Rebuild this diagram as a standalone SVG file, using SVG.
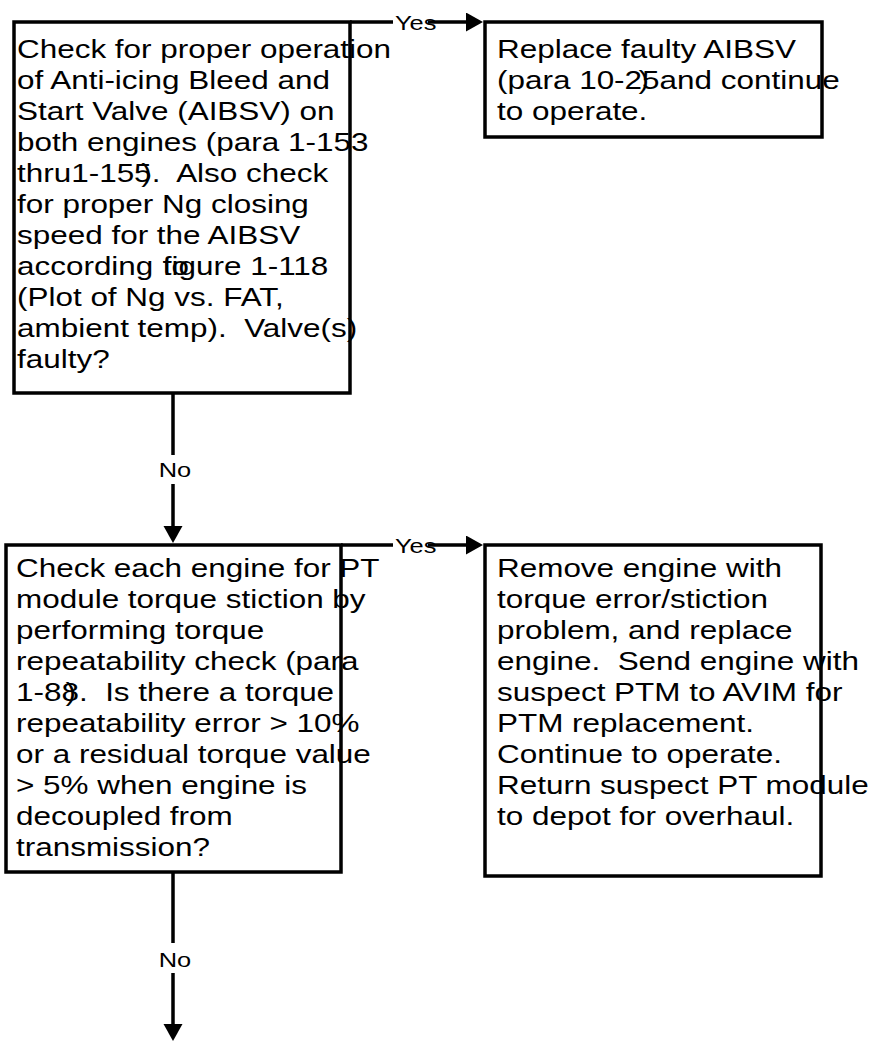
<svg xmlns="http://www.w3.org/2000/svg" width="874" height="1042" viewBox="0 0 874 1042">
  <style>
    .box { fill: #ffffff; stroke: #000000; stroke-width: 3.5; }
    .t { font-family: "Liberation Sans", Arial, Helvetica, sans-serif; font-size: 26px; fill: #000000; white-space: pre; }
    .lbl { font-family: "Liberation Sans", Arial, Helvetica, sans-serif; font-size: 21px; fill: #000000; }
    .wire { fill: none; stroke: #000000; stroke-width: 3.5; }
  </style>
  <defs>
    <marker id="arrow" markerUnits="userSpaceOnUse" markerWidth="18" markerHeight="20" refX="0" refY="9.5" orient="auto">
      <path d="M0,0 L17,9.5 L0,19 z" fill="#000000"/>
    </marker>
  </defs>

  <rect width="874" height="1042" fill="#ffffff"/>

  <!-- decision: AIBSV check -->
  <g id="check-aibsv">
    <rect class="box" x="14" y="22" width="336" height="371"/>
    <text class="t" transform="translate(17 58) scale(1.21 1)">Check for proper operation</text>
    <text class="t" transform="translate(17 89) scale(1.21 1)">of Anti-icing Bleed and</text>
    <text class="t" transform="translate(17 120) scale(1.21 1)">Start Valve (AIBSV) on</text>
    <text class="t" transform="translate(17 151) scale(1.21 1)">both engines (para 1-153</text>
    <text class="t" xml:space="preserve" transform="translate(17 182) scale(1.21 1)">thru1-155<tspan x="102.6">)</tspan><tspan x="111.3">.  Also check</tspan></text>
    <text class="t" transform="translate(17 213) scale(1.21 1)">for proper Ng closing</text>
    <text class="t" transform="translate(17 244) scale(1.21 1)">speed for the AIBSV</text>
    <text class="t" xml:space="preserve" transform="translate(17 275) scale(1.21 1)">according <tspan x="120.5">to</tspan><tspan x="120.5">figure 1-118</tspan></text>
    <text class="t" transform="translate(17 306) scale(1.21 1)">(Plot of Ng vs. FAT,</text>
    <text class="t" xml:space="preserve" transform="translate(17 337) scale(1.21 1)">ambient temp).  Valve(s)</text>
    <text class="t" transform="translate(17 368) scale(1.21 1)">faulty?</text>
  </g>

  <!-- action: replace AIBSV -->
  <g id="replace-aibsv">
    <rect class="box" x="485" y="22" width="337" height="115"/>
    <text class="t" transform="translate(497 58) scale(1.21 1)">Replace faulty AIBSV</text>
    <text class="t" transform="translate(497 89) scale(1.21 1)">(para 10-25<tspan x="117">)</tspan><tspan x="134.4">and continue</tspan></text>
    <text class="t" transform="translate(497 120) scale(1.21 1)">to operate.</text>
  </g>

  <!-- decision: PT module torque stiction -->
  <g id="check-stiction">
    <rect class="box" x="6" y="545" width="335" height="327"/>
    <text class="t" transform="translate(16 577) scale(1.21 1)">Check each engine for PT</text>
    <text class="t" transform="translate(16 608) scale(1.21 1)">module torque stiction by</text>
    <text class="t" transform="translate(16 639) scale(1.21 1)">performing torque</text>
    <text class="t" transform="translate(16 670) scale(1.21 1)">repeatability check (para</text>
    <text class="t" xml:space="preserve" transform="translate(16 701) scale(1.21 1)">1-88<tspan x="41">)</tspan><tspan x="52">.  Is there a torque</tspan></text>
    <text class="t" transform="translate(16 732) scale(1.21 1)">repeatability error &gt; 10%</text>
    <text class="t" transform="translate(16 763) scale(1.21 1)">or a residual torque value</text>
    <text class="t" transform="translate(16 794) scale(1.21 1)">&gt; 5% when engine is</text>
    <text class="t" transform="translate(16 825) scale(1.21 1)">decoupled from</text>
    <text class="t" transform="translate(16 856) scale(1.21 1)">transmission?</text>
  </g>

  <!-- action: remove engine -->
  <g id="remove-engine">
    <rect class="box" x="485" y="545" width="336" height="331"/>
    <text class="t" transform="translate(497 577) scale(1.21 1)">Remove engine with</text>
    <text class="t" transform="translate(497 608) scale(1.21 1)">torque error/stiction</text>
    <text class="t" transform="translate(497 639) scale(1.21 1)">problem, and replace</text>
    <text class="t" xml:space="preserve" transform="translate(497 670) scale(1.21 1)">engine.  Send engine with</text>
    <text class="t" transform="translate(497 701) scale(1.21 1)">suspect PTM to AVIM for</text>
    <text class="t" transform="translate(497 732) scale(1.21 1)">PTM replacement.</text>
    <text class="t" transform="translate(497 763) scale(1.21 1)">Continue to operate.</text>
    <text class="t" transform="translate(497 794) scale(1.21 1)">Return suspect PT module</text>
    <text class="t" transform="translate(497 825) scale(1.21 1)">to depot for overhaul.</text>
  </g>

  <!-- connectors -->
  <g id="connectors">
    <path class="wire" d="M350,22 H393 M428,22 H466" marker-end="url(#arrow)"/>
    <text class="lbl" transform="translate(395 29.5) scale(1.21 1)">Yes</text>

    <path class="wire" d="M173,393 V455 M173,484 V526" marker-end="url(#arrow)"/>
    <text class="lbl" text-anchor="middle" transform="translate(175 477) scale(1.21 1)">No</text>

    <path class="wire" d="M341,545 H393 M428,545 H466" marker-end="url(#arrow)"/>
    <text class="lbl" transform="translate(395 552.5) scale(1.21 1)">Yes</text>

    <path class="wire" d="M173,872 V943 M173,973 V1024" marker-end="url(#arrow)"/>
    <text class="lbl" text-anchor="middle" transform="translate(175 967) scale(1.21 1)">No</text>
  </g>
</svg>
